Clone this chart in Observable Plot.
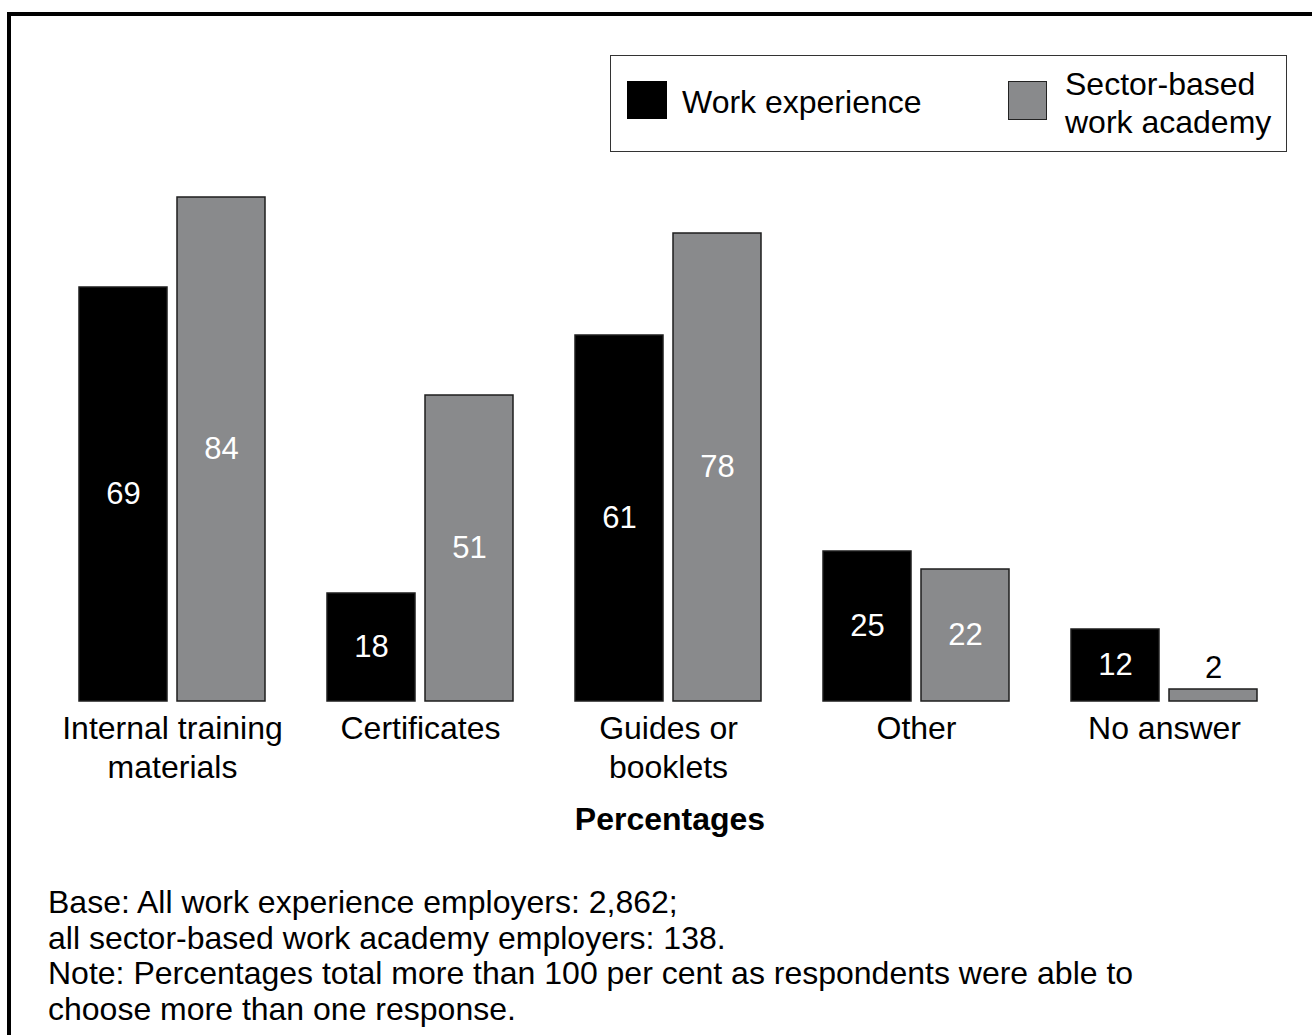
<!DOCTYPE html>
<html>
<head>
<meta charset="utf-8">
<script src="https://cdn.jsdelivr.net/npm/d3@7"></script>
<script src="https://cdn.jsdelivr.net/npm/@observablehq/plot@0.6"></script>
<style>
  html, body { margin: 0; padding: 0; background: #fff; overflow: hidden; width: 1312px; height: 1035px; }
  body { position: relative; font-family: "Liberation Sans", Arial, sans-serif; color: #000; }
  #frame { position: absolute; left: 7px; top: 12px; width: 1400px; height: 1100px; border: 4px solid #000; box-sizing: border-box; }
  #chart { position: absolute; left: 0; top: 0; }
  .abs { position: absolute; font-size: 32px; white-space: nowrap; }
  #legend { position: absolute; left: 610px; top: 55px; width: 677px; height: 97px; border: 1.5px solid #333; box-sizing: border-box; background: #fff; }
  .sw { position: absolute; box-sizing: border-box; }
</style>
</head>
<body>
<div id="frame"></div>
<div id="chart"></div>
<div id="legend"></div>
<div class="abs" id="xlabel" style="left:470px; width:400px; text-align:center; top:800px; line-height:38px; font-weight:bold;"></div>
<div class="abs" id="foot" style="left:48px; top:885px; line-height:35.5px;"></div>
<script>
const categories = ["Internal training\nmaterials", "Certificates", "Guides or\nbooklets", "Other", "No answer"];
const seriesNames = ["Work experience", "Sector-based work academy"];
const workExperience = [69, 18, 61, 25, 12];
const sectorBased = [84, 51, 78, 22, 2];
const seriesColors = ["#000000", "#898a8c"];
const xAxisTitle = "Percentages";
const footLines = [
  "Base: All work experience employers: 2,862;",
  "all sector-based work academy employers: 138.",
  "Note: Percentages total more than 100 per cent as respondents were able to",
  "choose more than one response."
];
const legendLabels = ["Work experience", "Sector-based\nwork academy"];

const data = categories.flatMap((c, i) => [
  {category: c, series: seriesNames[0], value: workExperience[i]},
  {category: c, series: seriesNames[1], value: sectorBased[i]}
]);

const chart = Plot.plot({
  width: 1312,
  height: 790,
  marginTop: 101,
  marginBottom: 89,
  marginLeft: 77,
  marginRight: 52,
  style: {fontFamily: "'Liberation Sans', Arial, sans-serif", fontSize: "32px", background: "transparent", color: "#000"},
  fx: {domain: categories, paddingInner: 0.2414, paddingOuter: 0, label: null},
  x: {domain: seriesNames, paddingInner: 0.1, paddingOuter: 0, axis: null},
  y: {domain: [0, 100], axis: null},
  color: {domain: seriesNames, range: seriesColors},
  marks: [
    Plot.barY(data, {fx: "category", x: "series", y: "value", fill: "series", stroke: "#1e1e1e", strokeWidth: 1.5}),
    Plot.text(data.filter(d => d.value >= 5), {
      fx: "category", x: "series", y: d => d.value / 2,
      text: d => String(d.value), fill: "white", fontSize: 31, lineAnchor: "middle"
    }),
    Plot.text(data.filter(d => d.value < 5), {
      fx: "category", x: "series", y: "value", dy: -21,
      text: d => String(d.value), fill: "black", fontSize: 31, lineAnchor: "middle"
    }),
    Plot.axisFx({anchor: "bottom", tickSize: 0, tickPadding: 10, fontSize: 32, lineHeight: 1.21, label: null, fill: "black"})
  ]
});
document.getElementById("chart").appendChild(chart);

document.getElementById("xlabel").textContent = xAxisTitle;
document.getElementById("foot").innerHTML = footLines.join("<br>");

const legend = document.getElementById("legend");
const sw1 = document.createElement("div");
sw1.className = "sw";
Object.assign(sw1.style, {left: "16px", top: "25px", width: "40px", height: "38px", background: seriesColors[0]});
legend.appendChild(sw1);
const t1 = document.createElement("div");
t1.className = "abs";
Object.assign(t1.style, {left: "71px", top: "27px", lineHeight: "38px"});
t1.textContent = legendLabels[0];
legend.appendChild(t1);
const sw2 = document.createElement("div");
sw2.className = "sw";
Object.assign(sw2.style, {left: "397px", top: "25px", width: "39px", height: "39px", background: seriesColors[1], border: "1.5px solid #222"});
legend.appendChild(sw2);
const t2 = document.createElement("div");
t2.className = "abs";
Object.assign(t2.style, {left: "454px", top: "9px", lineHeight: "38px"});
t2.innerHTML = legendLabels[1].replace("\n", "<br>");
legend.appendChild(t2);
</script>
</body>
</html>
